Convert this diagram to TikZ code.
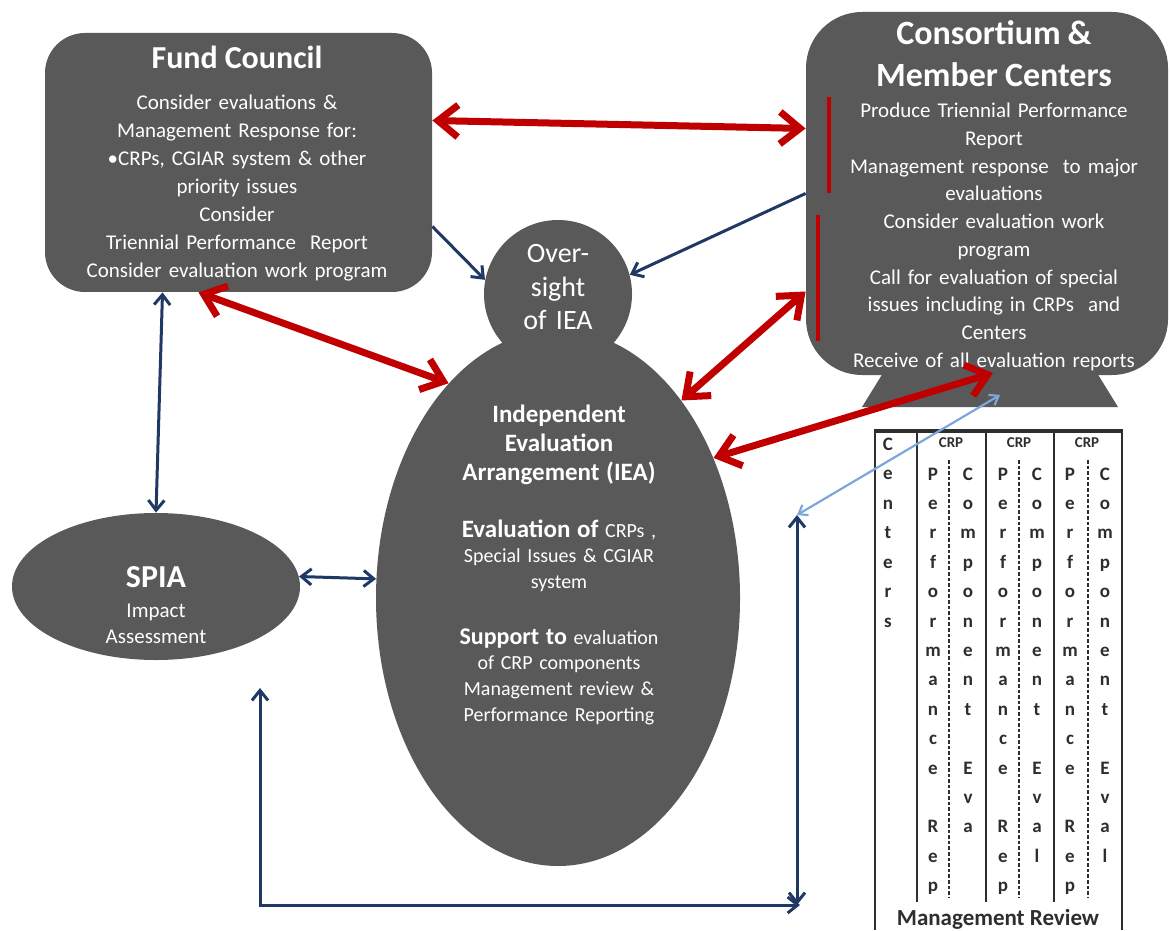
\documentclass[tikz,border=0pt]{standalone}
\usepackage{fontspec}
\setmainfont{Carlito}
\usetikzlibrary{positioning,arrows.meta,shapes.geometric}
\definecolor{panelgray}{HTML}{595959}
\definecolor{linkred}{HTML}{C00000}
\definecolor{linknavy}{HTML}{203864}
\definecolor{linkpale}{HTML}{7BA7DB}
\definecolor{gridgray}{HTML}{2E2E2E}
\tikzset{
  panel/.style={draw=none, fill=panelgray, inner sep=0pt},
  panelbox/.style={panel, rectangle, rounded corners=20pt},
  paneltext/.style={text=white, align=center, text width=#1, anchor=base, inner sep=0pt},
  paneltext/.default=200pt,
  redlink/.style={<->, >={Straight Barb[length=10pt,width=16pt]}, line width=3.5pt, draw=linkred},
  navylink/.style={>={Straight Barb[length=5pt,width=8pt]}, line width=1.5pt, draw=linknavy},
  palelink/.style={<->, >={Straight Barb[length=4pt,width=6pt]}, line width=1.1pt, draw=linkpale},
  gridline/.style={draw=gridgray, line width=1.3pt},
  griddash/.style={draw=gridgray, line width=1.3pt, dash pattern=on 1.8pt off 1pt},
  gridletter/.style={anchor=base, inner sep=0pt, text=gridgray, font=\fontsize{9.5}{10}\selectfont\bfseries},
  gridhead/.style={anchor=base, inner sep=0pt, text=gridgray, font=\fontsize{7.5}{8}\selectfont\bfseries},
}
\newcommand{\paneltitle}[1]{\fontsize{#1}{1.24\dimexpr#1pt\relax}\selectfont\bfseries}

\begin{document}
\begin{tikzpicture}[x=0.5pt, y=-0.5pt]
  \path[fill=white, use as bounding box] (0,0) rectangle (1170,930);

  % main shapes
  \fill[panelgray] (883,373) -- (1097,373) -- (1118,407) -- (862,407) -- cycle;
  \node[panelbox, rounded corners=28pt, minimum width=181pt, minimum height=181.5pt] (cons) at (987,193.5) {};
  \node[panelbox, minimum width=193.5pt, minimum height=129.5pt] (fc) at (238.5,162.5) {};
  \node[panel, circle, minimum size=74pt] (over) at (558,294) {};
  \node[panel, ellipse, minimum width=182pt, minimum height=268pt] (iea) at (558,598) {};
  \node[panel, ellipse, minimum width=144pt, minimum height=73.5pt] (spia) at (156,586.5) {};

  \draw[linkred, line width=2pt] (829,97) -- (829,193);
  \draw[linkred, line width=2pt] (818,215) -- (818,341);

  % texts
  \node[paneltext, font=\fontsize{10.5}{14}\selectfont] (fcText) at (237,69)
    {{\paneltitle{16}Fund Council\par}\vspace{6.5pt}
     Consider evaluations \&\\Management Response for:\\\textbullet CRPs, CGIAR system \& other\\priority issues\\Consider\\Triennial Performance\ \ Report\\Consider evaluation work program};
  \node[paneltext, font=\fontsize{10.5}{13.85}\selectfont] (consText) at (994,45)
    {{\paneltitle{17}\fontsize{17}{21}\selectfont Consortium \&\\Member Centers\par}\vspace{1.6pt}
     Produce Triennial Performance\\Report\\Management response\ \ to major\\evaluations\\Consider evaluation work\\program\\Call for evaluation of special\\issues including in CRPs\ \ and\\Centers\\Receive of all evaluation reports};
  \node[paneltext, font=\fontsize{14}{16.75}\selectfont] (overText) at (558,263) {Over-\\sight\\of IEA};
  \node[paneltext, font=\fontsize{10}{12.8}\selectfont] (ieaText) at (559,422)
    {{\paneltitle{12.5}\fontsize{12.5}{14.5}\selectfont Independent\\Evaluation\\Arrangement (IEA)\par}\vspace{15.7pt}
     {\paneltitle{12.5}Evaluation of} CRPs ,\\Special Issues \& CGIAR\\system\par\vspace{15.2pt}
     {\paneltitle{12}Support to} evaluation\\of CRP components\\Management review \&\\Performance Reporting};
  \node[paneltext, font=\fontsize{10.5}{13}\selectfont] (spiaText) at (156,587)
    {{\paneltitle{16}SPIA\par}\vspace{2pt}Impact\\Assessment};

  % review grid
  \draw[gridline, line width=1.8pt] (874,431) -- (1123,431);
  \draw[gridline] (875,431) -- (875,930);
  \draw[gridline] (1122,431) -- (1122,930);
  \foreach \sx in {917,986,1054}
    \draw[gridline] (\sx,431) -- (\sx,902);
  \foreach \dx in {949,1019,1088}
    \draw[griddash] (\dx,460) -- (\dx,897);
  \foreach \hx [count=\k] in {951,1019,1087}
    \node[gridhead] (crp\k) at (\hx,447) {CRP};
  \foreach \ch [count=\i from 0] in {C,e,n,t,e,r,s}
    \node[gridletter] (ctr\i) at (888,450+29.5*\i) {\ch};
  \foreach \colx/\row/\word [count=\k] in {
      933/0/{P,e,r,f,o,r,m,a,n,c,e}, 933/12/{R,e,p},
      968/0/{C,o,m,p,o,n,e,n,t}, 968/10/{E,v,a},
      1003/0/{P,e,r,f,o,r,m,a,n,c,e}, 1003/12/{R,e,p},
      1037/0/{C,o,m,p,o,n,e,n,t}, 1037/10/{E,v,a,l},
      1070/0/{P,e,r,f,o,r,m,a,n,c,e}, 1070/12/{R,e,p},
      1105/0/{C,o,m,p,o,n,e,n,t}, 1105/10/{E,v,a,l}}
    \foreach \ch [count=\i from \row] in \word
      \node[gridletter] (g\k-\i) at (\colx,480+29.4*\i) {\ch};
  \node[anchor=base, inner sep=0pt, text=gridgray, font=\fontsize{11.5}{12}\selectfont\bfseries] (review) at (998,925) {Management Review};

  % connectors
  \coordinate (basetop) at (993,373);
  \coordinate (basemid) at (1000,395);
  \coordinate (spiain) at (260,688);
  \coordinate (loopend) at (800,905);
  \coordinate (looptop) at (797,515);
  \coordinate (loopbot) at (797,905);

  \draw[navylink, ->] ([yshift=-32pt]fc.east) -- (over.169);
  \draw[navylink, ->] (cons.west) -- (over.15);
  \draw[navylink, <->] ([xshift=-38pt]fc.south) -- (spia.north);
  \draw[navylink, <->] (spia.4) -- (iea.174);
  \draw[navylink, <->] (spiain) |- (loopend);
  \draw[navylink, <->] (looptop) -- (loopbot);
  \draw[palelink] (basemid) -- (looptop);

  \draw[redlink] ([yshift=21pt]fc.east) -- ([yshift=32.5pt]cons.west);
  \draw[redlink] ([xshift=-20pt]fc.south) -- (iea.117);
  \draw[redlink] ([yshift=-49pt]cons.west) -- (iea.58);
  \draw[redlink] (basetop) -- (iea.42);
\end{tikzpicture}
\end{document}
